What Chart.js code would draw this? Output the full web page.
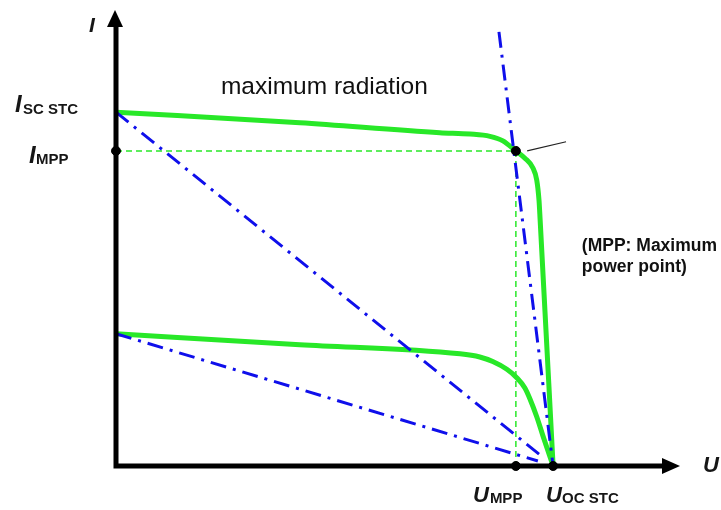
<!DOCTYPE html>
<html>
<head>
<meta charset="utf-8">
<script src="https://cdn.jsdelivr.net/npm/chart.js@4.4.1/dist/chart.umd.min.js"></script>
<style>
html,body{margin:0;padding:0;background:#fff;}
#wrap{width:721px;height:510px;position:relative;}
</style>
</head>
<body>
<div id="wrap"><canvas id="c" width="721" height="510"></canvas></div>
<script>
// Axis extents (data units)
const axisU = [0, 0, 97];
const axisI = [96.5, 0, 0];

// I-U curve at maximum radiation (STC)
const upperU = [0, 32.6, 57.4, 62.8, 66.3, 68.6, 70.9, 72.5, 73.9, 74.6, 75.0, 75.2, 77.5];
const upperI = [77.6, 75.3, 73.1, 72.8, 72.3, 71.3, 69.1, 67.5, 65.4, 62.7, 58.3, 54.0, 0];

// I-U curve at lower radiation
const lowerU = [0, 32.6, 61.0, 64.5, 66.8, 69.3, 71.1, 72.5, 73.4, 74.6, 75.7, 77.5];
const lowerI = [29.0, 26.6, 24.6, 23.9, 22.9, 21.2, 19.3, 17.1, 14.7, 10.8, 6.6, 0];

// Load lines (dash-dot)
const load1U = [0, 75.2];   const load1I = [77.6, 2.4];
const load2U = [0, 74.8];   const load2I = [29.0, 1.1];
const load3U = [67.9, 77.5]; const load3I = [95.2, 0];

// MPP guides
const mppU = 70.9, mppI = 69.1, iscI = 77.6, uocU = 77.5;
const mppHU = [0, mppU];   const mppHI = [mppI, mppI];
const mppVU = [mppU, mppU]; const mppVI = [mppI, 0];

// marked points
const dotsU = [0, mppU, mppU, uocU];
const dotsI = [mppI, mppI, 0, 0];

// pointer line to annotation
const ptrU = [72.9, 79.8];
const ptrI = [69.1, 71.1];

const pts = (xs, ys) => xs.map((x, i) => ({x: x, y: ys[i]}));

const GREEN = 'rgb(40,232,40)';
const BLUE = 'rgb(15,15,235)';
const FONT = '"Liberation Sans", Arial, sans-serif';

const labelsPlugin = {
  id: 'labels',
  afterDraw(chart) {
    const ctx = chart.ctx;
    const xs = chart.scales.x, ys = chart.scales.y;
    const X = v => xs.getPixelForValue(v), Y = v => ys.getPixelForValue(v);
    ctx.save();
    // arrow heads
    ctx.fillStyle = '#000';
    const yTop = Y(100), x0 = X(0), y0 = Y(0), xEnd = X(100);
    ctx.beginPath();
    ctx.moveTo(x0 - 1, yTop);
    ctx.lineTo(x0 + 7, yTop + 17);
    ctx.lineTo(x0 - 9, yTop + 17);
    ctx.closePath(); ctx.fill();
    ctx.beginPath();
    ctx.moveTo(xEnd, y0);
    ctx.lineTo(xEnd - 18, y0 - 8);
    ctx.lineTo(xEnd - 18, y0 + 8);
    ctx.closePath(); ctx.fill();

    ctx.fillStyle = '#161616';
    ctx.textBaseline = 'alphabetic';
    ctx.textAlign = 'left';
    // I axis label
    ctx.font = 'italic bold 21px ' + FONT;
    ctx.fillText('I', x0 - 27, yTop + 22);
    // U axis label
    ctx.font = 'italic bold 22px ' + FONT;
    ctx.fillText('U', xEnd + 23, y0 + 6);

    // I_SC STC
    ctx.font = 'italic bold 24px ' + FONT;
    ctx.fillText('I', x0 - 101, Y(iscI));
    ctx.font = 'bold 15px ' + FONT;
    ctx.fillText('SC STC', x0 - 93, Y(iscI) + 2);
    // I_MPP
    ctx.font = 'italic bold 24px ' + FONT;
    ctx.fillText('I', x0 - 87, Y(mppI) + 12);
    ctx.font = 'bold 15px ' + FONT;
    ctx.fillText('MPP', x0 - 80, Y(mppI) + 13);
    // U_MPP
    ctx.font = 'italic bold 22px ' + FONT;
    ctx.fillText('U', X(mppU) - 43, y0 + 36);
    ctx.font = 'bold 15px ' + FONT;
    ctx.fillText('MPP', X(mppU) - 26, y0 + 37);
    // U_OC STC
    ctx.font = 'italic bold 22px ' + FONT;
    ctx.fillText('U', X(uocU) - 7, y0 + 36);
    ctx.font = 'bold 15px ' + FONT;
    ctx.fillText('OC STC', X(uocU) + 9, y0 + 37);

    // maximum radiation
    ctx.fillStyle = '#111';
    ctx.font = '24.5px ' + FONT;
    ctx.fillText('maximum radiation', X(18.6), Y(81.6));

    // MPP note
    ctx.font = 'bold 17.5px ' + FONT;
    ctx.fillText('(MPP: Maximum', X(82.6), Y(47.2));
    ctx.fillText('power point)', X(82.6), Y(42.6));
    ctx.restore();
  }
};

const common = {showLine: true, pointRadius: 0, pointHoverRadius: 0, clip: false, fill: false};

new Chart(document.getElementById('c'), {
  type: 'scatter',
  data: {
    datasets: [
      Object.assign({}, common, {label: 'points', data: pts(dotsU, dotsI), showLine: false,
        pointRadius: 4.5, pointBackgroundColor: '#000', pointBorderColor: '#000', order: 0}),
      Object.assign({}, common, {label: 'axes', data: pts(axisU, axisI), borderColor: '#000',
        borderWidth: 5, borderJoinStyle: 'miter', tension: 0, order: 1}),
      Object.assign({}, common, {label: 'pointer', data: pts(ptrU, ptrI), borderColor: '#222',
        borderWidth: 1.2, tension: 0, order: 2}),
      Object.assign({}, common, {label: 'load1', data: pts(load1U, load1I), borderColor: BLUE,
        borderWidth: 3, borderDash: [16, 7, 3, 7], tension: 0, order: 3}),
      Object.assign({}, common, {label: 'load2', data: pts(load2U, load2I), borderColor: BLUE,
        borderWidth: 3, borderDash: [16, 7, 3, 7], tension: 0, order: 3}),
      Object.assign({}, common, {label: 'load3', data: pts(load3U, load3I), borderColor: BLUE,
        borderWidth: 3, borderDash: [16, 7, 3, 7], tension: 0, order: 3}),
      Object.assign({}, common, {label: 'upper', data: pts(upperU, upperI), borderColor: GREEN,
        borderWidth: 5, cubicInterpolationMode: 'monotone', order: 4}),
      Object.assign({}, common, {label: 'lower', data: pts(lowerU, lowerI), borderColor: GREEN,
        borderWidth: 5, cubicInterpolationMode: 'monotone', order: 4}),
      Object.assign({}, common, {label: 'mppH', data: pts(mppHU, mppHI), borderColor: GREEN,
        borderWidth: 1.5, borderDash: [6, 4], tension: 0, order: 5}),
      Object.assign({}, common, {label: 'mppV', data: pts(mppVU, mppVI), borderColor: GREEN,
        borderWidth: 1.5, borderDash: [6, 4], tension: 0, order: 5})
    ]
  },
  options: {
    responsive: false,
    animation: false,
    events: [],
    layout: {padding: {left: 116, right: 41, top: 10, bottom: 44}},
    plugins: {legend: {display: false}, tooltip: {enabled: false}},
    scales: {
      x: {type: 'linear', min: 0, max: 100, display: false},
      y: {type: 'linear', min: 0, max: 100, display: false}
    }
  },
  plugins: [labelsPlugin]
});
</script>
</body>
</html>
